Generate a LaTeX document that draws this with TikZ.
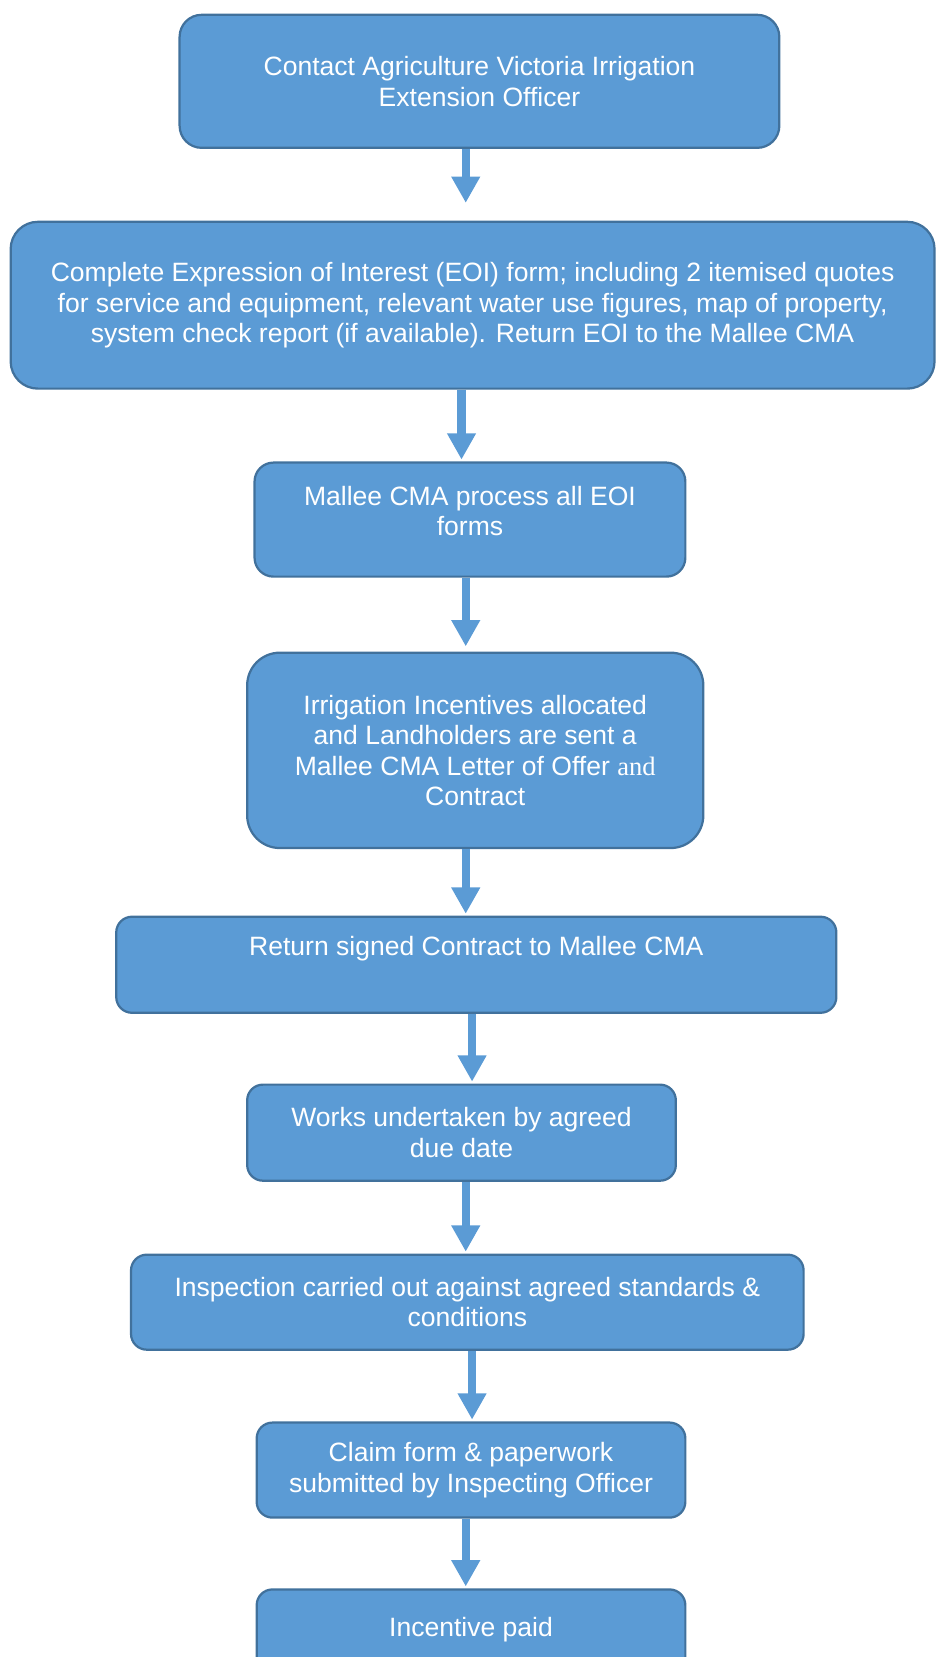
\documentclass[tikz,border=0pt]{standalone}
\usepackage{fontspec}
\setmainfont{Liberation Sans}
\newfontfamily\timesfont{Liberation Serif}
\usetikzlibrary{arrows.meta}
\definecolor{boxfill}{HTML}{5B9BD5}
\definecolor{boxline}{HTML}{41719C}
\tikzset{
    stepbox/.style={draw=boxline,fill=boxfill,line width=1.2pt,text=white,align=center,inner sep=0pt,font=\fontsize{14.3}{16.4}\selectfont},
    steptext/.style={text=white,align=center,inner sep=0pt,font=\fontsize{14.3}{16.4}\selectfont},
    flow/.style={draw=boxfill,line width=4.5pt,shorten >=1pt,-{Triangle[width=14.7pt,length=14.2pt]}}
}
\begin{document}
\begin{tikzpicture}[x=0.02cm,y=-0.02cm]
                \useasboundingbox (0,0) rectangle (887,1569);
                %% steps
                \node[stepbox,minimum width=11.36cm,minimum height=2.52cm,rounded corners=11.9pt] (contact) at (454,77) {Contact Agriculture Victoria Irrigation\\Extension Officer};
                \node[stepbox,minimum width=17.5cm,minimum height=3.16cm,rounded corners=14.7pt] (eoi) at (447.5,289) {Complete Expression of Interest (EOI) form; including 2 itemised quotes\\for service and equipment, relevant water use figures, map of property,\\system check report (if available). Return EOI to the Mallee CMA};
                \node[stepbox,minimum width=8.16cm,minimum height=2.16cm,rounded corners=10.2pt] (process) at (445,492) {};
                \node[steptext] at (445,484) {Mallee CMA process all EOI\\forms};
                \node[stepbox,minimum width=8.64cm,minimum height=3.7cm,rounded corners=17.6pt] (offer) at (450,710.5) {Irrigation Incentives allocated\\and Landholders are sent a\\Mallee CMA Letter of Offer {\timesfont and}\\Contract};
                \node[stepbox,minimum width=13.64cm,minimum height=1.82cm,rounded corners=8.5pt] (contract) at (451,913.5) {};
                \node[steptext] at (451,898) {Return signed Contract to Mallee CMA};
                \node[stepbox,minimum width=8.12cm,minimum height=1.82cm,rounded corners=8.5pt] (works) at (437,1072.5) {Works undertaken by agreed\\due date};
                \node[stepbox,minimum width=12.74cm,minimum height=1.8cm,rounded corners=8.5pt] (inspect) at (442.5,1233) {Inspection carried out against agreed standards \&\\conditions};
                \node[stepbox,minimum width=8.12cm,minimum height=1.8cm,rounded corners=8.5pt] (claim) at (446,1392) {Claim form \& paperwork\\submitted by Inspecting Officer};
                \node[stepbox,minimum width=8.12cm,minimum height=1.8cm,rounded corners=8.5pt] (paid) at (446,1550) {};
                \node[steptext] at (446,1543) {Incentive paid};
                %% arrows
                \draw[flow,shorten >=9.6pt] (contact.south -| 441,0) -- (eoi.north -| 441,0);
                \draw[flow] (eoi.south -| 437,0) -- (process.north -| 437,0);
                \draw[flow,shorten >=2.8pt] (process.south -| 441,0) -- (offer.north -| 441,0);
                \draw[flow] (offer.south -| 441,0) -- (contract.north -| 441,0);
                \draw[flow] (contract.south -| 447,0) -- (works.north -| 447,0);
                \draw[flow] (works.south -| 441,0) -- (inspect.north -| 441,0);
                \draw[flow] (inspect.south -| 447,0) -- (claim.north -| 447,0);
                \draw[flow] (claim.south -| 441,0) -- (paid.north -| 441,0);
            \end{tikzpicture}
\end{document}
